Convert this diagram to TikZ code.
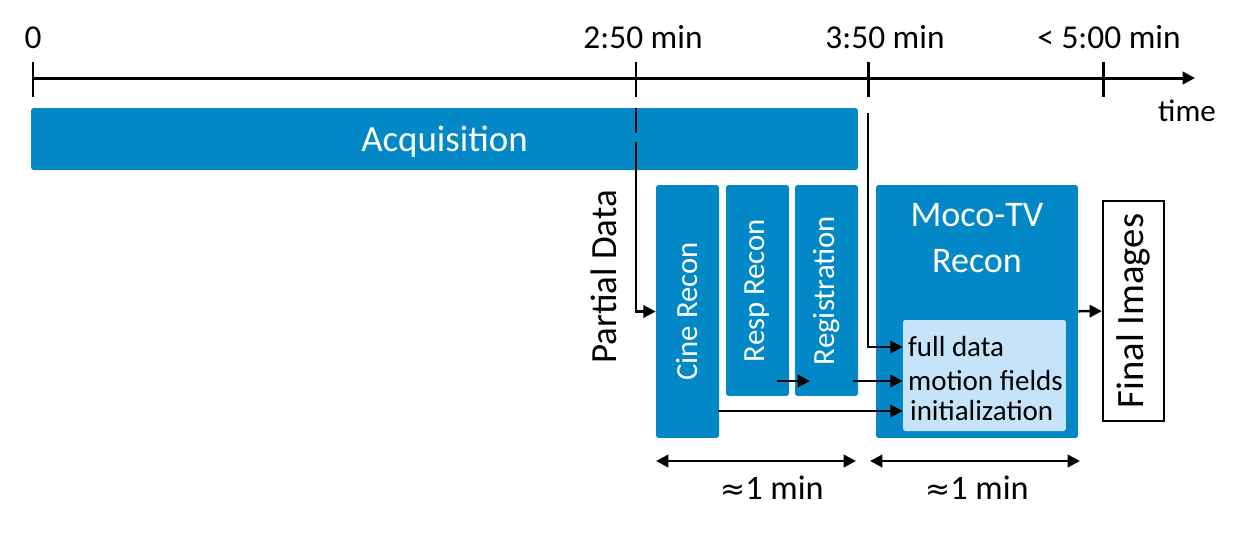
\documentclass[tikz,border=0pt]{standalone}
\usepackage{fontspec}
\setmainfont{Carlito}
\usepackage{graphicx}
\usetikzlibrary{arrows.meta, positioning, calc}
\definecolor{acqblue}{RGB}{2,136,198}
\definecolor{paleblue}{RGB}{197,228,250}

\begin{document}
\begin{tikzpicture}[
    x=0.02cm, y=-0.02cm,
    blk/.style={fill=acqblue, text=white, rounded corners=1.5pt, inner sep=0pt, align=center},
    arrow/.style={line width=1.5pt, -{Triangle[length=7pt,width=7pt]}},
    dimarrow/.style={line width=1.5pt, {Triangle[length=7pt,width=7pt]}-{Triangle[length=7pt,width=7pt]}},
    line/.style={line width=1.7pt}
]
\useasboundingbox (0,0) rectangle (1248,559);

% Time axis
\draw [line, -{Triangle[length=7pt,width=7pt]}] (33,78) -- (1195,78);
\foreach \i/\x/\lx/\lab in {0/33/33/0, 1/636/643/2:50 min, 2/868/885/3:50 min, 3/1103/1109/{< 5:00 min}} {
    \coordinate (tk\i) at (\x,78);
    \draw [line] (\x,62) -- (\x,97);
    \node (lab\i) [anchor=base, font=\fontsize{19}{22}\selectfont] at (\lx,48) {\lab};
}
\node (timelab) [anchor=base, font=\fontsize{17.7}{21}\selectfont] at (1187,121) {time};

% Acquisition
\node (acq) [blk, minimum width=16.54cm, minimum height=1.24cm] at (444.5,139) {};
\node (acqlab) [text=white, font=\fontsize{21}{25}\selectfont] at (444.5,142) {Acquisition};

% Reconstruction steps
\node (cine) [blk, minimum width=1.26cm, minimum height=5.06cm, font=\fontsize{17.5}{21}\selectfont] at (687.5,311.5) {\rotatebox{90}{Cine Recon}};
\node (resp) [blk, minimum width=1.26cm, minimum height=4.22cm, font=\fontsize{17.5}{21}\selectfont] at (757.5,290.5) {\rotatebox{90}{Resp Recon}};
\node (reg) [blk, minimum width=1.26cm, minimum height=4.22cm, font=\fontsize{17.5}{21}\selectfont] at (826.5,290.5) {\rotatebox{90}{Registration}};

\node (moco) [blk, minimum width=4.04cm, minimum height=5.06cm] at (977,311.5) {};
\node (mocotitle) [text=white, align=center, font=\fontsize{20.5}{26.5}\selectfont] at (977,238) {Moco-TV\\Recon};
\node (inner) [fill=paleblue, rounded corners=1pt, minimum width=3.26cm, minimum height=2.22cm] at (984.5,375.5) {};
\node (full) [anchor=west, inner sep=1pt, font=\fontsize{16.5}{20}\selectfont] at (906,347) {full data};
\node (motion) [anchor=west, inner sep=1pt, font=\fontsize{16.5}{20}\selectfont] at (906,381) {motion fields};
\node (init) [anchor=west, inner sep=1pt, font=\fontsize{16.5}{20}\selectfont] at (908,411) {initialization};

\node (final) [draw, line width=1.3pt, inner sep=0pt, minimum width=1.22cm, minimum height=4.4cm, font=\fontsize{22}{26}\selectfont] at (1133.5,311) {\rotatebox{90}{Final Images}};

\node (partial) [font=\fontsize{21}{25}\selectfont] at (604,277) {\rotatebox{90}{Partial Data}};

% Connectors
\coordinate (pdtop) at ($(tk1)+(0,30)$);
\coordinate (fdtop) at ($(tk2)+(0,35)$);
\coordinate (respout) at (777,381);
\coordinate (regin) at (810,381);
\coordinate (regout) at (853,381);
\coordinate (cineout) at (718,411);

\draw [arrow, dash pattern=on 14.5pt off 5pt on 400pt] (pdtop) |- (cine.west);
\draw [arrow] (fdtop) |- (inner.west |- full);
\draw [arrow] (respout) -- (regin);
\draw [arrow] (regout) -- (inner.west |- motion);
\draw [arrow] (cineout) -- (inner.west |- init);
\draw [arrow] (moco) -- (final);

% Durations
\coordinate (da1) at (656,461);
\coordinate (db1) at (856,461);
\coordinate (da2) at (870,461);
\coordinate (db2) at (1080,461);
\draw [dimarrow] (da1) -- (db1);
\draw [dimarrow] (da2) -- (db2);
\node (dur1) [font=\fontsize{19.5}{23}\selectfont] at (772,488) {{\fontspec{DejaVu Sans}\fontsize{17}{20}\selectfont ≈}1 min};
\node (dur2) [font=\fontsize{19.5}{23}\selectfont] at (977,488) {{\fontspec{DejaVu Sans}\fontsize{17}{20}\selectfont ≈}1 min};

\end{tikzpicture}
\end{document}
